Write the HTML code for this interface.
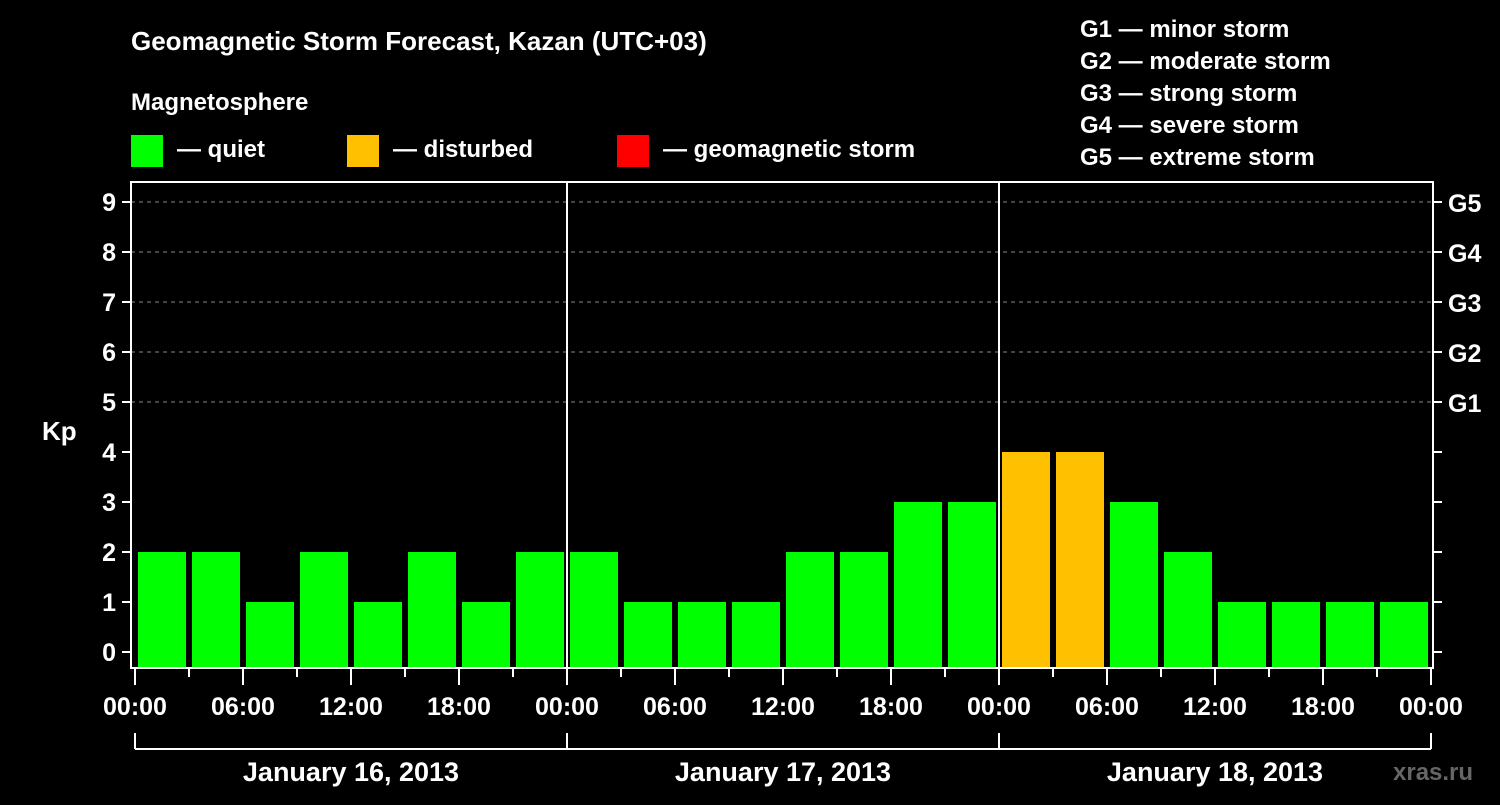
<!DOCTYPE html>
<html><head><meta charset="utf-8"><style>
body{margin:0;background:#000;width:1500px;height:800px;overflow:hidden}
svg text{font-family:"Liberation Sans",Arial,sans-serif;font-weight:bold;fill:#fff}
</style></head><body>
<svg id="c" width="1500" height="800">
<rect width="1500" height="800" fill="#000"/>
<text x="131" y="50" font-size="26">Geomagnetic Storm Forecast, Kazan (UTC+03)</text>
<text x="131" y="110" font-size="24">Magnetosphere</text>
<g><rect x="131" y="135" width="32" height="32" fill="#00ff00"/><text x="177" y="157" font-size="24">— quiet</text></g>
<g><rect x="347" y="135" width="32" height="32" fill="#ffc000"/><text x="393" y="157" font-size="24">— disturbed</text></g>
<g><rect x="617" y="135" width="32" height="32" fill="#ff0000"/><text x="663" y="157" font-size="24">— geomagnetic storm</text></g>
<g font-size="24">
<text x="1080" y="37">G1 — minor storm</text>
<text x="1080" y="69">G2 — moderate storm</text>
<text x="1080" y="101">G3 — strong storm</text>
<text x="1080" y="133">G4 — severe storm</text>
<text x="1080" y="165">G5 — extreme storm</text>
</g>
<text x="42" y="440" font-size="26">Kp</text>
<text x="1393" y="780" font-size="24" fill="#666" style="fill:#666">xras.ru</text>
<g id="plot"></g>
</svg>
<script>
const values=[2,2,1,2,1,2,1,2, 2,1,1,1,2,2,3,3, 4,4,3,2,1,1,1,1];
const colors=["#00ff00","#00ff00","#00ff00","#00ff00","#00ff00","#00ff00","#00ff00","#00ff00","#00ff00","#00ff00","#00ff00","#00ff00","#00ff00","#00ff00","#00ff00","#00ff00","#ffc000","#ffc000","#00ff00","#00ff00","#00ff00","#00ff00","#00ff00","#00ff00"];
const yTicks=[0,1,2,3,4,5,6,7,8,9];
const gLabels=["G1","G2","G3","G4","G5"];
const xLabels=["00:00","06:00","12:00","18:00","00:00","06:00","12:00","18:00","00:00","06:00","12:00","18:00","00:00"];
const days=["January 16, 2013","January 17, 2013","January 18, 2013"];
const NS="http://www.w3.org/2000/svg",g=document.getElementById('plot');
const X0=135,slot=54,L=131,R=1433,T=182,B=668;
const y=v=>652-v*50, x=i=>X0+i*slot;
function el(t,a){const e=document.createElementNS(NS,t);for(const k in a)e.setAttribute(k,a[k]);g.appendChild(e);return e;}
// grid
[5,6,7,8,9].forEach(v=>{const e=el('line',{x1:L,x2:R,y1:y(v),y2:y(v),stroke:'#888','stroke-dasharray':'4,4','stroke-width':1});

});
// bars
values.forEach((v,i)=>{const e=el('rect',{x:x(i)+3,y:y(v),width:48,height:B-y(v)-1,fill:colors[i]});

});
// frame
const f=el('rect',{x:L,y:T,width:R-L,height:B-T,fill:'none',stroke:'#fff','stroke-width':2});


[1,2].forEach(d=>{const e=el('line',{x1:x(d*8),x2:x(d*8),y1:T,y2:B,stroke:'#fff','stroke-width':2});

});
// y ticks
yTicks.forEach(v=>{el('line',{x1:122,x2:L,y1:y(v),y2:y(v),stroke:'#fff','stroke-width':2});
el('line',{x1:R,x2:1442,y1:y(v),y2:y(v),stroke:'#fff','stroke-width':2});
const t=el('text',{x:116,y:y(v)+9,'font-size':25,'text-anchor':'end'});t.textContent=v;

});
gLabels.forEach((s,i)=>{const t=el('text',{x:1448,y:y(5+i)+10,'font-size':25});t.textContent=s;

});
// x ticks
for(let i=0;i<=24;i++){const major=i%2==0;el('line',{x1:x(i),x2:x(i),y1:B,y2:major?685:677,stroke:'#fff','stroke-width':2});}
xLabels.forEach((s,i)=>{const t=el('text',{x:x(i*2),y:715,'font-size':25,'text-anchor':'middle'});t.textContent=s;

});
// date brackets
el('line',{x1:x(0),x2:x(24),y1:749,y2:749,stroke:'#fff','stroke-width':2});
[0,8,16,24].forEach(i=>el('line',{x1:x(i),x2:x(i),y1:733,y2:749,stroke:'#fff','stroke-width':2}));
days.forEach((s,i)=>{const t=el('text',{x:x(i*8+4),y:781,'font-size':27,'text-anchor':'middle'});t.textContent=s;

});
</script>
</body></html>
